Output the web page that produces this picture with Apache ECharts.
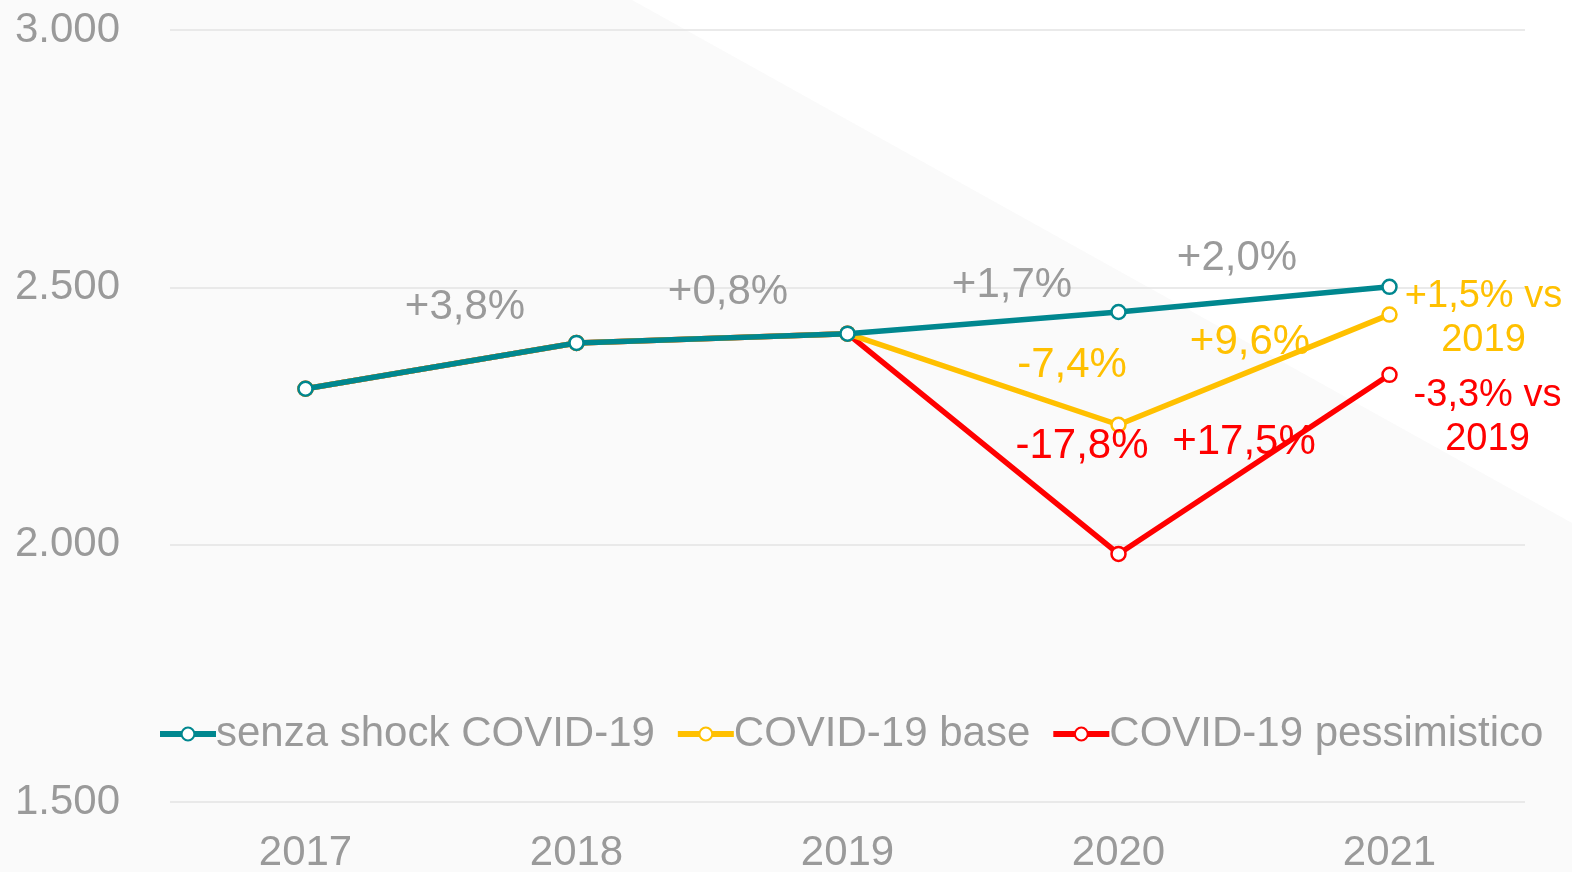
<!DOCTYPE html>
<html>
<head>
<meta charset="utf-8">
<title>Scenari COVID-19</title>
<script src="https://cdn.jsdelivr.net/npm/echarts@6/dist/echarts.min.js"></script>
<style>
  html, body { margin: 0; padding: 0; background: #fafafa; }
  #chart { width: 1572px; height: 872px; }
</style>
</head>
<body>
<div id="chart"></div>
<script>
// dati
const years = ["2017", "2018", "2019", "2020", "2021"];
const senzaShock = [2303, 2392, 2410, 2452, 2501];
const covidBase = [2303, 2392, 2410, 2233, 2447];
const covidPessimistico = [2303, 2392, 2410, 1982, 2330];

// etichette delle variazioni (segmento i -> i+1)
const tealGrowth = ["+3,8%", "+0,8%", "+1,7%", "+2,0%"];
const baseGrowth = [null, null, "-7,4%", "+9,6%"];
const pessGrowth = [null, null, "-17,8%", "+17,5%"];
const baseVs2019 = "+1,5% vs\n2019";
const pessVs2019 = "-3,3% vs\n2019";

const GRAY = "#9a9a9a";
const TEAL = "#00878f";
const YELLOW = "#ffc000";
const RED = "#ff0000";
const FONT = "'Liberation Sans', Arial, sans-serif";

// spostamenti in pixel delle etichette rispetto al punto medio del segmento
const tealOffsets = [[24, -58], [16, -46], [29, -37], [-17, -41]];
const baseOffsets = [null, null, [89, -14], [-4, -27]];
const pessOffsets = [null, null, [99, 3], [-10, -22]];

function segLabels(values, texts, offsets, color) {
  const out = [];
  texts.forEach((t, i) => {
    if (!t) return;
    out.push({
      value: [i + 0.5, (values[i] + values[i + 1]) / 2],
      label: { formatter: t, color: color, offset: offsets[i] }
    });
  });
  return out;
}

const last = years.length - 1;
const labelData = []
  .concat(segLabels(senzaShock, tealGrowth, tealOffsets, GRAY))
  .concat(segLabels(covidBase, baseGrowth, baseOffsets, YELLOW))
  .concat(segLabels(covidPessimistico, pessGrowth, pessOffsets, RED))
  .concat([
    { value: [last, covidBase[last]], label: { formatter: baseVs2019, color: YELLOW, fontSize: 38, offset: [94, 4] } },
    { value: [last, covidPessimistico[last]], label: { formatter: pessVs2019, color: RED, fontSize: 38, offset: [98, 43] } }
  ]);

function lineSeries(name, data, color, z) {
  return {
    name: name,
    type: "line",
    data: data,
    z: z,
    symbol: "circle",
    symbolSize: 14,
    showSymbol: true,
    lineStyle: { color: color, width: 5.5 },
    itemStyle: { color: "#fff", borderColor: color, borderWidth: 2.5 },
    emphasis: { disabled: true },
    animation: false
  };
}

const chart = echarts.init(document.getElementById("chart"));
chart.setOption({
  backgroundColor: "#fafafa",
  textStyle: { fontFamily: FONT },
  animation: false,
  graphic: [
    {
      type: "polygon",
      z: -10,
      silent: true,
      shape: { points: [[632, 0], [1572, 0], [1572, 523]] },
      style: { fill: "#ffffff" }
    }
  ],
  grid: { left: 170, right: 47, top: 30, bottom: 70, outerBoundsMode: "none", containLabel: false },
  legend: {
    data: ["senza shock COVID-19", "COVID-19 base", "COVID-19 pessimistico"],
    left: 152,
    top: 708,
    itemWidth: 56,
    itemHeight: 16,
    itemGap: 20,
    lineStyle: { width: 6 },
    textStyle: { color: GRAY, fontSize: 42, fontFamily: FONT, padding: [0, 0, 0, -5] }
  },
  xAxis: [
    {
      type: "category",
      data: years,
      boundaryGap: true,
      axisLine: { show: false },
      axisTick: { show: false },
      axisLabel: { color: GRAY, fontSize: 42, margin: 30, fontFamily: FONT }
    },
    {
      type: "value",
      min: -0.5,
      max: 4.5,
      show: false
    }
  ],
  yAxis: {
    type: "value",
    min: 1500,
    max: 3000,
    interval: 500,
    axisLine: { show: false },
    axisTick: { show: false },
    splitLine: { lineStyle: { color: "#e3e3e3", width: 1.5 } },
    axisLabel: {
      color: GRAY,
      fontSize: 42,
      margin: 50,
      fontFamily: FONT,
      formatter: v => String(v).replace(/\B(?=(\d{3})+(?!\d))/g, ".")
    }
  },
  series: [
    lineSeries("senza shock COVID-19", senzaShock, TEAL, 5),
    lineSeries("COVID-19 base", covidBase, YELLOW, 4),
    lineSeries("COVID-19 pessimistico", covidPessimistico, RED, 3),
    {
      type: "scatter",
      xAxisIndex: 1,
      symbolSize: 0,
      silent: true,
      z: 6,
      itemStyle: { opacity: 1 },
      data: labelData,
      label: {
        show: true,
        position: "inside",
        fontSize: 42,
        lineHeight: 44,
        fontFamily: FONT,
        align: "center",
        verticalAlign: "middle"
      },
      animation: false
    }
  ]
});
</script>
</body>
</html>
